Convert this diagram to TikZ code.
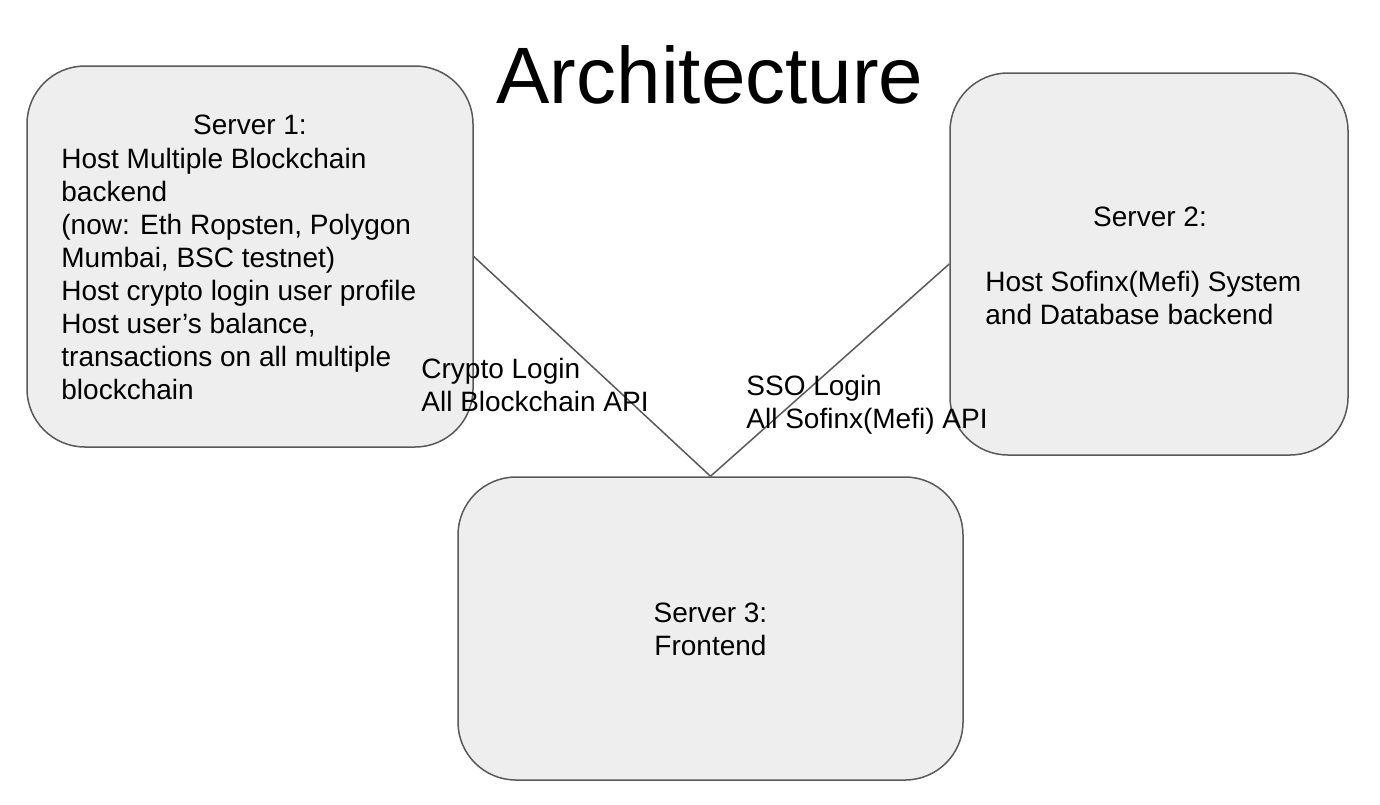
\documentclass[tikz,border=0pt]{standalone}
\usepackage{fontspec}
\setmainfont{Liberation Sans}
\usepackage{tikz}
\definecolor{boxfill}{HTML}{EEEEEE}
\definecolor{boxline}{HTML}{595959}
\tikzstyle{server}=[rectangle, rounded corners=29pt, draw=boxline, fill=boxfill, line width=0.75pt, inner sep=0pt]
\tikzstyle{txt}=[inner sep=0pt, font=\fontsize{14}{16.5}\selectfont]
\newcommand{\server}{\node[server]}
\newcommand{\txt}{\node[txt]}

\begin{document}
\begin{tikzpicture}[x=0.5pt, y=-0.5pt,
    every edge/.style={draw=boxline, line width=0.75pt}
]
\useasboundingbox (0,0) rectangle (1380,804);
\node[inner sep=0pt, anchor=base, font=\fontsize{40}{48}\selectfont] (title) at (710,103) {Architecture};
\server (s1) at (250,256.5) [minimum width=223pt, minimum height=190.5pt] {};
\server (s2) at (1149,264) [minimum width=199pt, minimum height=191pt] {};
\server (s3) at (710.5,628.5) [minimum width=252.5pt, minimum height=151.5pt] {};
\path
(s1.east) edge (s3.north)
(s2.west) edge (s3.north)
;
% multi-line nodes: base anchor sits on the last line
\txt[anchor=base] (s1head) at (250,134) {Server 1:};
\txt[anchor=base west, align=left] (s1body) at (61,399) {Host Multiple Blockchain\\backend\\(now: Eth Ropsten, Polygon\\Mumbai, BSC testnet)\\Host crypto login user profile\\Host user’s balance,\\transactions on all multiple\\blockchain};
\txt[anchor=base] (s2head) at (1150,226) {Server 2:};
\txt[anchor=base west, align=left] (s2body) at (985,324) {Host Sofinx(Mefi) System\\and Database backend};
\txt[anchor=base, align=center] (s3body) at (710.5,655) {Server 3:\\Frontend};
\txt[anchor=base west, align=left] (crypto) at (421,411) {Crypto Login\\All Blockchain API};
\txt[anchor=base west, align=left] (sso) at (746,428) {SSO Login\\All Sofinx(Mefi) API};
\end{tikzpicture}
\end{document}
